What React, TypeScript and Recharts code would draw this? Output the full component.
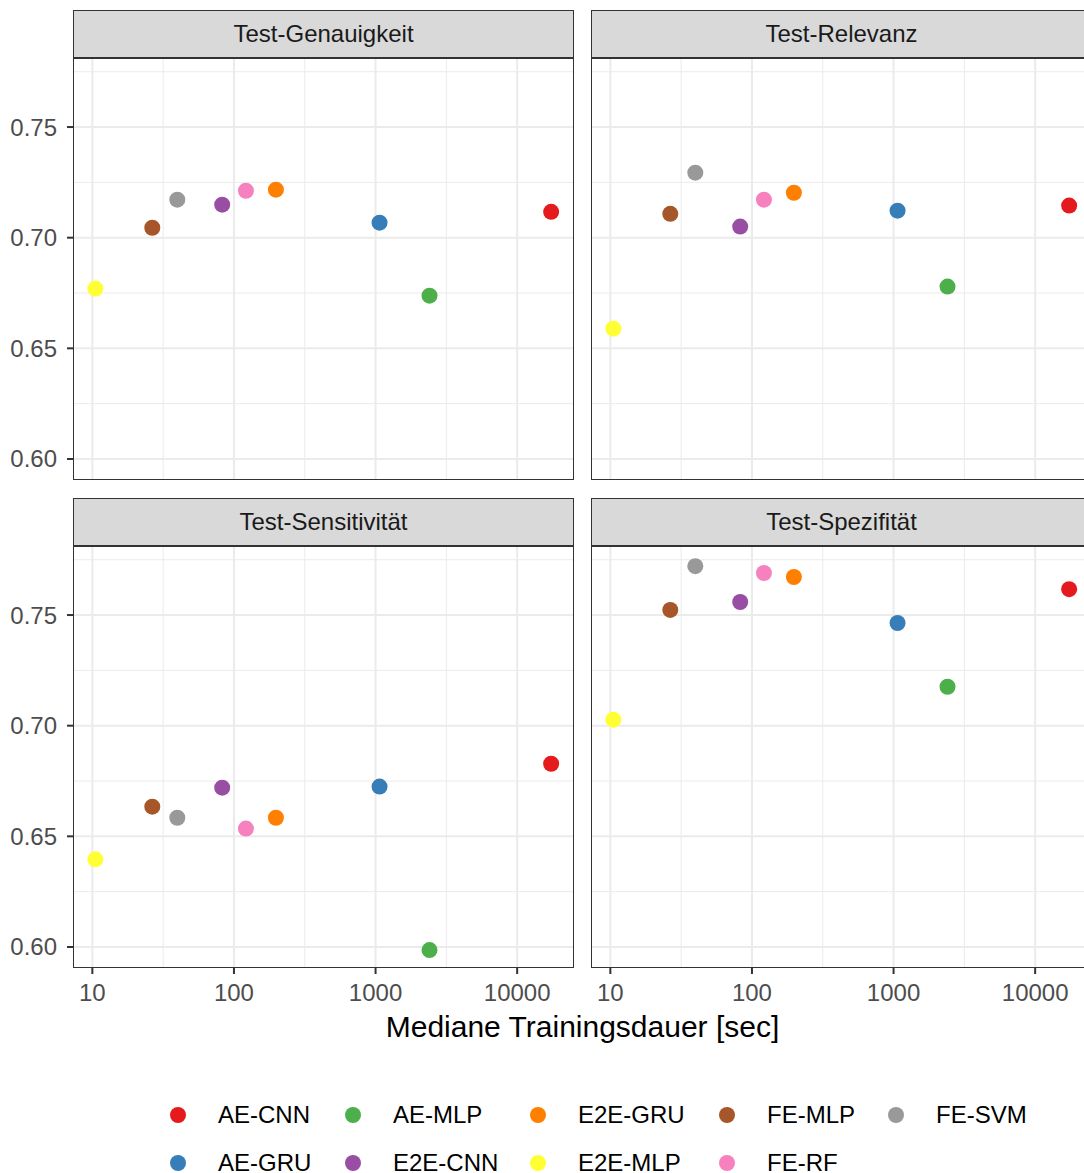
import {
  ScatterChart,
  Scatter,
  XAxis,
  YAxis,
  CartesianGrid,
  Cell,
} from 'recharts';

// Models (legend order) and their Set1 colours
const models = ['AE-CNN', 'AE-GRU', 'AE-MLP', 'E2E-CNN', 'E2E-GRU', 'E2E-MLP', 'FE-MLP', 'FE-RF', 'FE-SVM'];
const modelColors = ['#E41A1C', '#377EB8', '#4DAF4A', '#984EA3', '#FF7F00', '#FFFF33', '#A65628', '#F781BF', '#999999'];

// Median training time per model in seconds
const trainingSec = [17380, 1067, 2405, 82.6, 197.8, 10.5, 26.5, 121.5, 39.8];

// Test metrics per model
const genauigkeit = [0.7117, 0.7068, 0.6738, 0.7149, 0.7217, 0.677, 0.7045, 0.7212, 0.7172];
const relevanz = [0.7145, 0.7122, 0.6779, 0.705, 0.7203, 0.6589, 0.7108, 0.7172, 0.7294];
const sensitivitaet = [0.6828, 0.6725, 0.5986, 0.672, 0.6584, 0.6396, 0.6634, 0.6535, 0.6584];
const spezifitaet = [0.7617, 0.7464, 0.7176, 0.7559, 0.7672, 0.7027, 0.7523, 0.769, 0.7721];

const xTicks = [10, 100, 1000, 10000];
const xMinor = [31.62, 316.2, 3162];
const yTicks = [0.6, 0.65, 0.7, 0.75];
const yMinor = [0.625, 0.675, 0.725, 0.775];

const X_DOMAIN: [number, number] = [7.3, 25200];
const Y_DOMAIN: [number, number] = [0.5905, 0.7812];

const FONT = '"Liberation Sans", Arial, Helvetica, sans-serif';

const toPoints = (values: number[]) =>
  models.map((m, i) => ({ model: m, x: trainingSec[i], y: values[i] }));

const Dot = (props: any) => (
  <circle cx={props.cx} cy={props.cy} r={8} fill={props.fill} />
);

type PanelProps = {
  title: string;
  values: number[];
  left: number;
  top: number;
  showX: boolean;
  showY: boolean;
};

const PLOT_W = 501;
const PLOT_H = 422;
const Y_AXIS_W = 73;
const X_AXIS_H = 50;

const Panel = ({ title, values, left, top, showX, showY }: PanelProps) => {
  const width = PLOT_W + (showY ? Y_AXIS_W : 0);
  const height = PLOT_H + (showX ? X_AXIS_H : 0);
  const plotLeft = left + (showY ? Y_AXIS_W : 0);
  return (
    <>
      {/* facet strip */}
      <div
        style={{
          position: 'absolute',
          left: plotLeft,
          top: top - 48,
          width: PLOT_W,
          height: 48,
          boxSizing: 'border-box',
          background: '#D9D9D9',
          border: '1.4px solid #333333',
          display: 'flex',
          alignItems: 'center',
          justifyContent: 'center',
          fontSize: 24,
          color: '#1A1A1A',
        }}
      >
        {title}
      </div>
      <div style={{ position: 'absolute', left, top }}>
        <ScatterChart width={width} height={height} margin={{ top: 0, right: 0, bottom: 0, left: 0 }}>
          <CartesianGrid
            stroke="#EBEBEB"
            strokeWidth={1}
            horizontalValues={yMinor}
            verticalValues={xMinor}
          />
          <CartesianGrid
            stroke="#EBEBEB"
            strokeWidth={2}
            horizontalValues={yTicks}
            verticalValues={xTicks}
          />
          <XAxis
            type="number"
            dataKey="x"
            scale="log"
            domain={X_DOMAIN}
            allowDataOverflow
            ticks={xTicks}
            hide={!showX}
            height={X_AXIS_H}
            axisLine={false}
            tickSize={6}
            tickMargin={10}
            tickLine={{ stroke: '#333333', strokeWidth: 2 }}
            tick={{ fill: '#4D4D4D', fontSize: 24 }}
          />
          <YAxis
            type="number"
            dataKey="y"
            domain={Y_DOMAIN}
            allowDataOverflow
            ticks={yTicks}
            hide={!showY}
            width={Y_AXIS_W}
            axisLine={false}
            tickSize={6}
            tickMargin={10}
            tickLine={{ stroke: '#333333', strokeWidth: 2 }}
            tick={{ fill: '#4D4D4D', fontSize: 24 }}
            tickFormatter={(v: number) => v.toFixed(2)}
          />
          <Scatter data={toPoints(values)} shape={<Dot />} isAnimationActive={false}>
            {models.map((m, i) => (
              <Cell key={m} fill={modelColors[i]} />
            ))}
          </Scatter>
        </ScatterChart>
      </div>
      {/* panel border */}
      <div
        style={{
          position: 'absolute',
          left: plotLeft,
          top,
          width: PLOT_W,
          height: PLOT_H,
          boxSizing: 'border-box',
          border: '1.4px solid #333333',
          pointerEvents: 'none',
        }}
      />
    </>
  );
};

// legend column positions (dot centre x) and row centres
const legendCols = [178, 353, 538, 727, 896];
const legendRows = [1115, 1163];

const Legend = () => (
  <svg
    width={1084}
    height={1173}
    style={{ position: 'absolute', left: 0, top: 0, pointerEvents: 'none' }}
  >
    {models.map((m, i) => {
      const col = Math.floor(i / 2);
      const row = i % 2;
      const cx = legendCols[col];
      const cy = legendRows[row];
      return (
        <g key={m}>
          <circle cx={cx} cy={cy} r={8} fill={modelColors[i]} />
          <text
            x={cx + 40}
            y={cy}
            dy="0.35em"
            fontSize={24}
            fill="#000000"
            fontFamily={FONT}
          >
            {m}
          </text>
        </g>
      );
    })}
  </svg>
);

const App = () => {
  return (
    <div
      style={{
        position: 'absolute',
        left: 0,
        top: 0,
        width: 1084,
        height: 1173,
        overflow: 'hidden',
        background: '#FFFFFF',
        fontFamily: FONT,
      }}
    >
      <Panel title="Test-Genauigkeit" values={genauigkeit} left={0} top={58} showX={false} showY />
      <Panel title="Test-Relevanz" values={relevanz} left={591} top={58} showX={false} showY={false} />
      <Panel title="Test-Sensitivität" values={sensitivitaet} left={0} top={546} showX showY />
      <Panel title="Test-Spezifität" values={spezifitaet} left={591} top={546} showX showY={false} />
      <div
        style={{
          position: 'absolute',
          left: 73,
          width: 1019,
          top: 1010,
          textAlign: 'center',
          fontSize: 30,
          color: '#000000',
        }}
      >
        Mediane Trainingsdauer [sec]
      </div>
      <Legend />
    </div>
  );
};

export default App;
